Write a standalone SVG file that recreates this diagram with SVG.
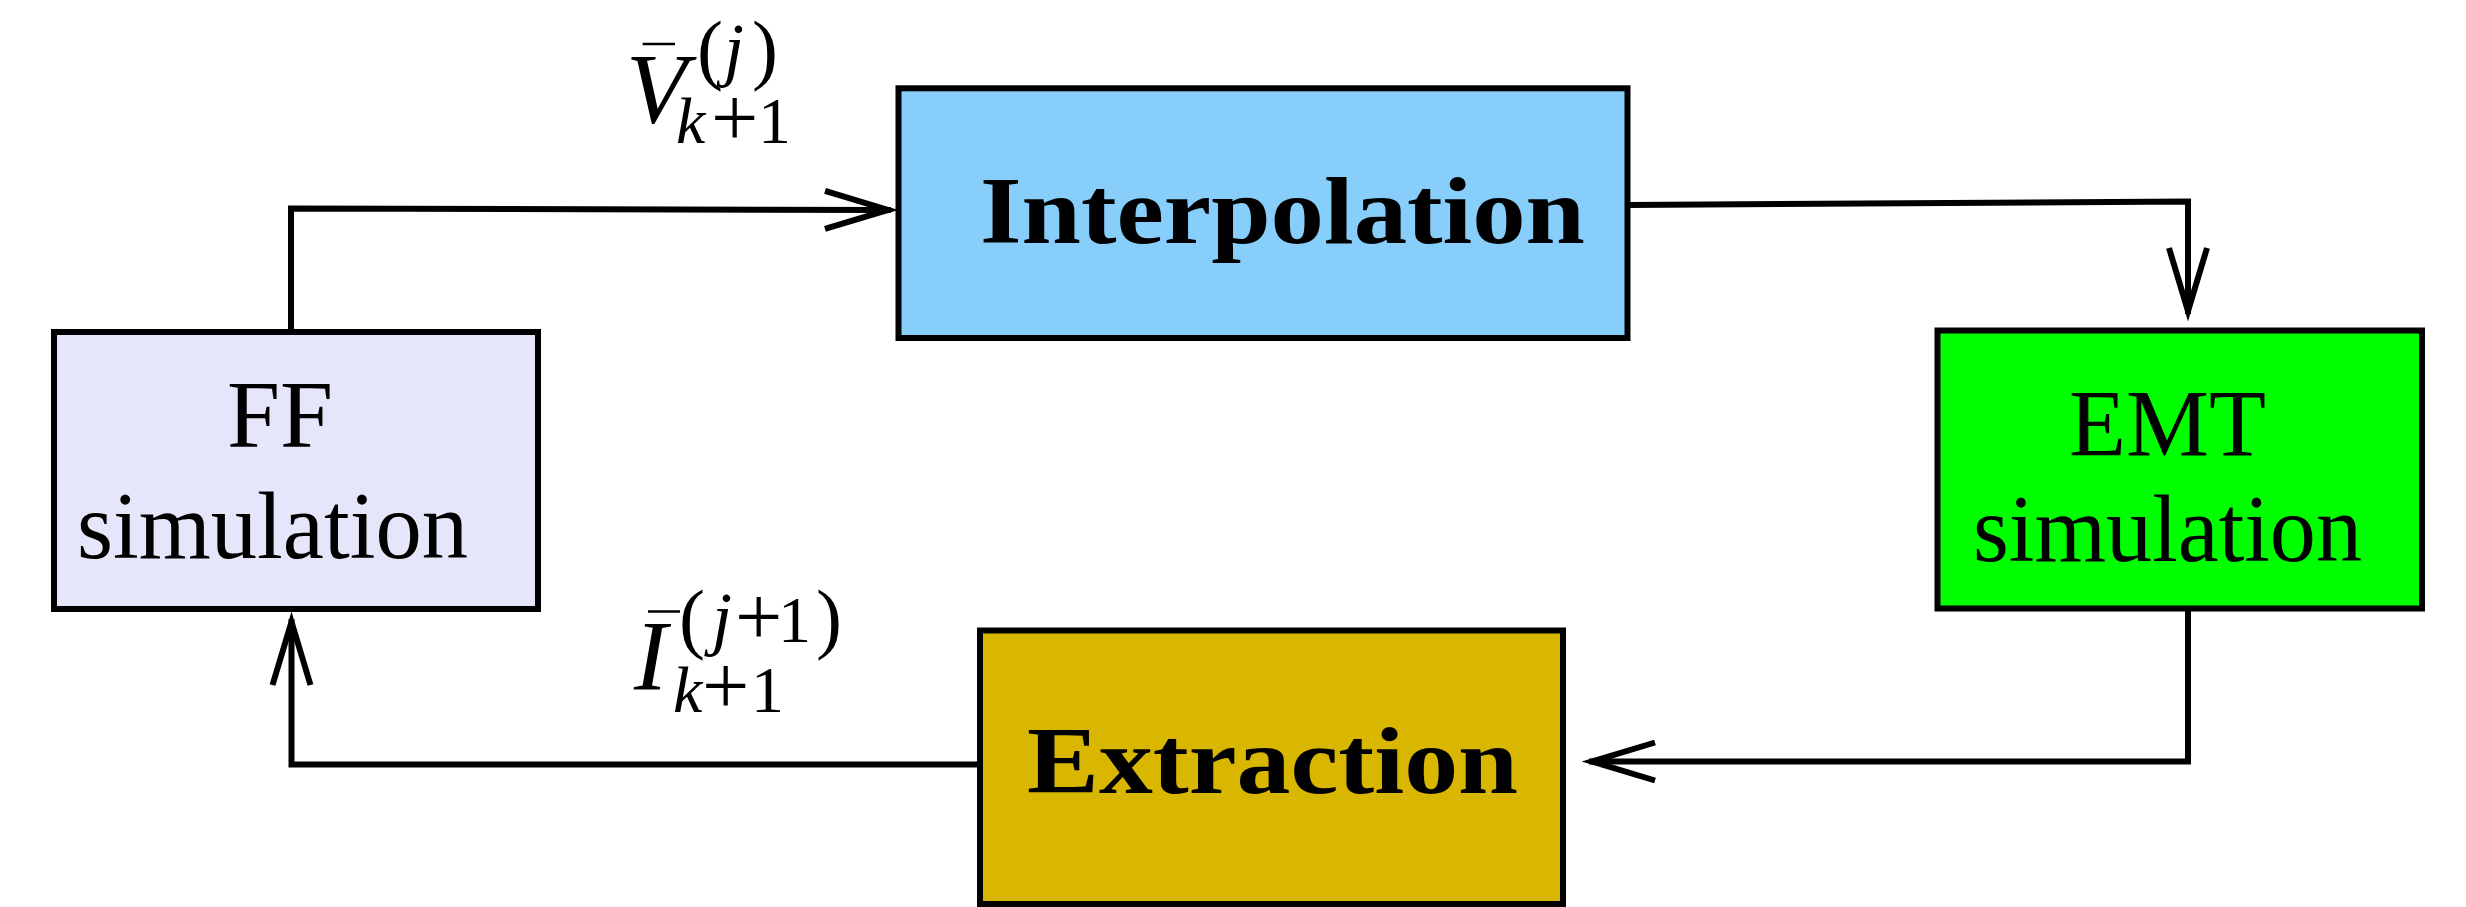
<svg xmlns="http://www.w3.org/2000/svg" width="2466" height="907" viewBox="0 0 2466 907">
<style>
.box{stroke:#000;stroke-width:6}
.conn{fill:none;stroke:#000;stroke-width:6;stroke-linejoin:miter}
.rm{font-family:"Liberation Serif","Times New Roman",serif;font-size:96px;fill:#000}
.bf{font-family:"Liberation Serif","Times New Roman",serif;font-size:95px;font-weight:bold;fill:#000}
.math{font-family:"Liberation Serif","Times New Roman",serif;fill:#000}
.it{font-style:italic}
</style>
<defs>
<marker id="ah" markerUnits="userSpaceOnUse" orient="auto" overflow="visible" markerWidth="10" markerHeight="10" refX="0" refY="0">
<path d="M-66,-19 L-3,0 L-66,19" fill="none" stroke="#000" stroke-width="6" stroke-linejoin="miter" stroke-miterlimit="10"/>
</marker>
</defs>
<rect width="2466" height="907" fill="#fff"/>
<g id="connectors">
<path class="conn" d="M291,332 L291,208.5 L891,210" marker-end="url(#ah)"/>
<path class="conn" d="M1628,205 L2188,201.5 L2188,314" marker-end="url(#ah)"/>
<path class="conn" d="M2188,608.5 L2188,761.5 L1589,761.5" marker-end="url(#ah)"/>
<path class="conn" d="M980,764.5 L291.5,764.5 L291.5,619" marker-end="url(#ah)"/>
</g>
<g id="ff">
<rect class="box" x="54" y="332" width="484" height="277" fill="#E6E6FA"/>
<text class="rm" x="227" y="446.7" textLength="106" lengthAdjust="spacingAndGlyphs">FF</text>
<text class="rm" x="77" y="557.7" textLength="391" lengthAdjust="spacingAndGlyphs">simulation</text>
</g>
<g id="interpolation">
<rect class="box" x="898.5" y="88.3" width="729" height="249.7" fill="#87CEFA"/>
<text class="bf" x="980" y="242.7" textLength="605" lengthAdjust="spacingAndGlyphs">Interpolation</text>
</g>
<g id="emt">
<rect class="box" x="1937.5" y="330.5" width="484.5" height="278" fill="#00FF00"/>
<text class="rm" x="2069" y="456" textLength="197" lengthAdjust="spacingAndGlyphs">EMT</text>
<text class="rm" x="1973" y="561.3" textLength="389" lengthAdjust="spacingAndGlyphs">simulation</text>
</g>
<g id="extraction">
<rect class="box" x="980" y="630.5" width="583" height="273.5" fill="#D9B700"/>
<text class="bf" x="1027" y="793.3" textLength="491" lengthAdjust="spacingAndGlyphs">Extraction</text>
</g>
<g id="label-v">
<line x1="642.7" y1="44" x2="675" y2="44" stroke="#000" stroke-width="2.5"/>
<text class="math"><tspan class="it" x="626" y="121.7" font-size="100">V</tspan><tspan x="697" y="74.5" font-size="78">(</tspan><tspan class="it" x="724" y="73" font-size="72">j</tspan><tspan x="752" y="74.5" font-size="78">)</tspan><tspan class="it" x="676" y="142.7" font-size="66">k</tspan><tspan x="711" y="145.5" font-size="84">+</tspan><tspan x="758" y="142.7" font-size="66">1</tspan></text>
</g>
<g id="label-i">
<line x1="648" y1="611.5" x2="680" y2="611.5" stroke="#000" stroke-width="2.5"/>
<text class="math"><tspan class="it" x="634" y="689.3" font-size="100">I</tspan><tspan x="679" y="643.5" font-size="78">(</tspan><tspan class="it" x="712" y="642" font-size="72">j</tspan><tspan x="735" y="644.5" font-size="84">+</tspan><tspan x="778" y="642" font-size="66">1</tspan><tspan x="816" y="643.5" font-size="78">)</tspan><tspan class="it" x="673" y="711.7" font-size="66">k</tspan><tspan x="702" y="714" font-size="84">+</tspan><tspan x="751" y="711.7" font-size="66">1</tspan></text>
</g>
</svg>
